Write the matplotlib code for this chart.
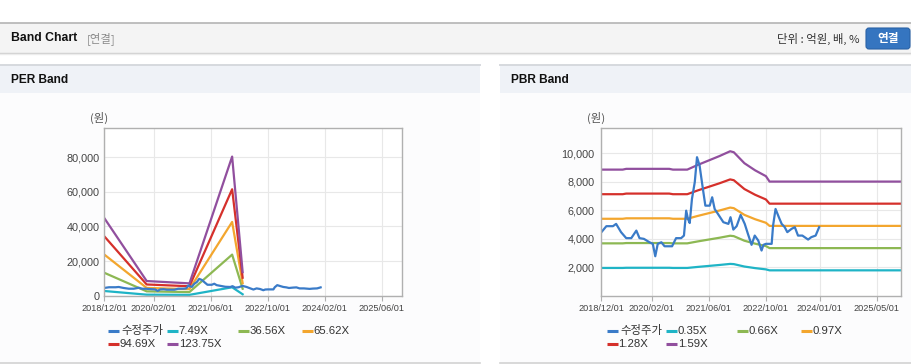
import matplotlib
matplotlib.use("Agg")
import matplotlib.pyplot as plt
import pandas as pd
from matplotlib.patches import Rectangle, FancyBboxPatch

# --- Data ---
price_dates = [
    "2018-12-01", "2019-01-13", "2019-03-10", "2019-04-06", "2019-05-18", "2019-07-01",
    "2019-08-13", "2019-09-25", "2019-10-22", "2019-11-28", "2020-01-15", "2020-02-12",
    "2020-03-04", "2020-03-25", "2020-04-25", "2020-05-22", "2020-07-25", "2020-08-28",
    "2020-10-10", "2020-11-03", "2020-11-22", "2020-12-07", "2020-12-22", "2021-01-10",
    "2021-02-03", "2021-02-22", "2021-03-16", "2021-04-13", "2021-05-04", "2021-06-10",
    "2021-07-01", "2021-07-22", "2021-08-19", "2021-10-04", "2021-11-16", "2021-12-04",
    "2021-12-28", "2022-01-25", "2022-02-28", "2022-04-04", "2022-05-01", "2022-06-01",
    "2022-06-28", "2022-07-28", "2022-08-25", "2022-09-10", "2022-10-01", "2022-11-19",
    "2022-12-01", "2022-12-22", "2023-01-19", "2023-02-12", "2023-03-10", "2023-04-01",
    "2023-05-07", "2023-06-04", "2023-07-01", "2023-08-07", "2023-09-25", "2023-10-22",
    "2023-11-28", "2023-12-28",
]
price_values = [
    4450, 4880, 4880, 5040, 4460, 4040,
    4040, 4570, 4040, 3990, 3750, 3640,
    2770, 3640, 3750, 3470, 3470, 4040,
    4040, 4220, 5970, 5390, 5100, 6790,
    7970, 9720, 9130, 7500, 6320, 6320,
    6910, 6090, 5740, 5160, 5040, 5510,
    4640, 4880, 5670, 5040, 4340, 3570,
    4220, 3870, 3170, 3570, 3640, 3640,
    4920, 6090, 5510, 5040, 4810, 4460,
    4690, 4810, 4220, 4220, 3940, 4110,
    4220, 4810,
]

per_dates = ["2018-12-01", "2019-12-01", "2020-12-01", "2021-12-01", "2022-03-01"]
per_749 = [2730, 600, 500, 4865, 820]
per_3656 = [13320, 2505, 2106, 23745, 4020]
per_6562 = [23910, 4500, 3780, 42620, 7200]
per_9469 = [34510, 6490, 5455, 61500, 10400]
per_12375 = [45100, 8480, 7130, 80370, 13600]

pbr_dates = [
    "2018-12-01", "2019-06-01", "2019-07-01", "2020-07-01", "2020-08-01", "2020-12-01",
    "2021-03-01", "2021-06-01", "2021-09-01", "2021-12-01", "2022-01-01", "2022-04-01",
    "2022-07-01", "2022-10-01", "2022-11-01", "2025-11-23",
]
pbr_035 = [1948, 1948, 1960, 1960, 1948, 1948, 2021, 2089, 2157, 2232, 2217, 2047, 1937, 1847, 1780, 1780]
pbr_066 = [3674, 3674, 3696, 3696, 3674, 3674, 3811, 3940, 4068, 4209, 4180, 3860, 3653, 3483, 3340, 3340]
pbr_097 = [5399, 5399, 5432, 5432, 5399, 5399, 5601, 5790, 5979, 6186, 6143, 5674, 5369, 5119, 4900, 4900]
pbr_128 = [7124, 7124, 7168, 7168, 7124, 7124, 7391, 7640, 7890, 8163, 8106, 7487, 7085, 6755, 6460, 6460]
pbr_159 = [8850, 8850, 8904, 8904, 8850, 8850, 9181, 9491, 9801, 10139, 10069, 9300, 8801, 8390, 8010, 8010]

per_labels = ["수정주가", "7.49X", "36.56X", "65.62X", "94.69X", "123.75X"]
pbr_labels = ["수정주가", "0.35X", "0.66X", "0.97X", "1.28X", "1.59X"]
per_xticks = ["2018-12-01", "2020-02-01", "2021-06-01", "2022-10-01", "2024-02-01", "2025-06-01"]
pbr_xticks = ["2018-12-01", "2020-02-01", "2021-06-01", "2022-10-01", "2024-01-01", "2025-05-01"]
per_yticks = [0, 20000, 40000, 60000, 80000]
pbr_yticks = [2000, 4000, 6000, 8000, 10000]

COLORS = ["#3a7bc8", "#1fb4c6", "#8db853", "#f3a62e", "#d5302b", "#914f9e"]
X_START, X_END = "2018-12-01", "2025-11-23"
W, H = 912, 364
KR = ["Noto Sans CJK KR", "DejaVu Sans"]
NUM = ["Liberation Sans", "Noto Sans CJK KR"]

fig = plt.figure(figsize=(W / 100, H / 100), dpi=100)
fig.patch.set_facecolor("white")

# page canvas in pixel coordinates
page = fig.add_axes([0, 0, 1, 1], zorder=0)
page.set_xlim(0, W)
page.set_ylim(H, 0)
page.axis("off")

# top header bar
page.add_patch(Rectangle((0, 22.5), W, 30, fc="#f4f4f4", ec="none"))
page.plot([0, W], [22.5, 22.5], color="#b4b4b4", lw=1.2)
page.plot([0, W], [52.5, 52.5], color="#cfcfcf", lw=1.0)
page.plot([0, W], [53.6, 53.6], color="#ececec", lw=1.0)
page.text(11, 38, "Band Chart", fontsize=8.8, weight="bold", family=NUM, va="center", color="#111111")
page.text(87, 39, "[연결]", fontsize=8.2, family=KR, va="center", color="#8a8a8a")
page.text(860, 39, "단위 : 억원, 배, %", fontsize=8.2, family=KR, va="center", ha="right", color="#333333")
page.add_patch(FancyBboxPatch((866, 28), 44, 21, boxstyle="round,pad=0,rounding_size=3",
                              fc="#3575c0", ec="#2a62a6", lw=0.8))
page.text(888, 38.5, "연결", fontsize=8.4, weight="bold", family=KR, va="center", ha="center", color="white")

# panel headers
for x0, x1, title in [(0, 480, "PER Band"), (500, W, "PBR Band")]:
    page.add_patch(Rectangle((x0, 93), x1 - x0, 269, fc="#fcfcfd", ec="none"))
    page.add_patch(Rectangle((x0, 65), x1 - x0, 28, fc="#eff2f7", ec="none"))
    page.plot([x0, x1], [65.2, 65.2], color="#d6d9de", lw=1.4)
    page.plot([x0, x1], [362.5, 362.5], color="#d2d2d2", lw=1.2)
    page.text(x0 + 11, 80, title, fontsize=8.6, weight="bold", family=NUM, va="center", color="#111111")


def style_chart(ax, xticks, ymax, yticks, ypad):
    ax.set_facecolor("white")
    ax.set_xlim(pd.Timestamp(X_START), pd.Timestamp(X_END))
    ax.set_ylim(0, ymax)
    ax.set_xticks(pd.to_datetime(xticks))
    ax.set_xticklabels([t.replace("-", "/") for t in xticks], fontsize=6.6, family=NUM, color="#444444")
    ax.set_yticks(yticks)
    ax.set_yticklabels([f"{v:,}" for v in yticks], fontsize=7.8, family=NUM, color="#444444")
    ax.tick_params(axis="x", length=3.5, width=0.8, color="#b0b0b0", pad=2.5)
    ax.tick_params(axis="y", length=0, pad=ypad)
    ax.grid(True, color="#e8e8e8", lw=0.8)
    ax.set_axisbelow(True)
    for s in ax.spines.values():
        s.set_color("#b0b0b0")
        s.set_linewidth(1.0)


def draw_legend(x0, y_rows, labels):
    cols = [0, 59.5, 130, 194.5]
    slots = [(cols[0], y_rows[0]), (cols[1], y_rows[0]), (cols[2], y_rows[0]), (cols[3], y_rows[0]),
             (cols[0], y_rows[1]), (cols[1], y_rows[1])]
    for (dx, y), lab, c in zip(slots, labels, COLORS):
        page.plot([x0 + dx, x0 + dx + 11], [y, y], color=c, lw=2.2, solid_capstyle="butt")
        page.text(x0 + dx + (14 if lab == "수정주가" else 11.5), y, lab, fontsize=8.2, family=NUM,
                  va="center", color="#333333")


# PER chart
ax1 = fig.add_axes([104 / W, 1 - 295.7 / H, 298 / W, 167.7 / H], zorder=2)
style_chart(ax1, per_xticks, 96900, per_yticks, 3.4)
pd_per = pd.to_datetime(per_dates)
for vals, c in zip([per_749, per_3656, per_6562, per_9469, per_12375], COLORS[1:]):
    ax1.plot(pd_per, vals, color=c, lw=1.6)
ax1.plot(pd.to_datetime(price_dates), price_values, color=COLORS[0], lw=1.6)
page.text(99, 118, "(원)", fontsize=8.2, family=KR, va="center", ha="center", color="#555555")
draw_legend(107.7, (330.7, 344), per_labels)

# PBR chart
ax2 = fig.add_axes([601.3 / W, 1 - 295.7 / H, 299.7 / W, 167.4 / H], zorder=2)
style_chart(ax2, pbr_xticks, 11750, pbr_yticks, 5.0)
pd_pbr = pd.to_datetime(pbr_dates)
for vals, c in zip([pbr_035, pbr_066, pbr_097, pbr_128, pbr_159], COLORS[1:]):
    ax2.plot(pd_pbr, vals, color=c, lw=1.6)
ax2.plot(pd.to_datetime(price_dates), price_values, color=COLORS[0], lw=1.6)
page.text(596.5, 118, "(원)", fontsize=8.2, family=KR, va="center", ha="center", color="#555555")
draw_legend(606.7, (330.7, 344), pbr_labels)

fig.savefig("out.png", dpi=100)
